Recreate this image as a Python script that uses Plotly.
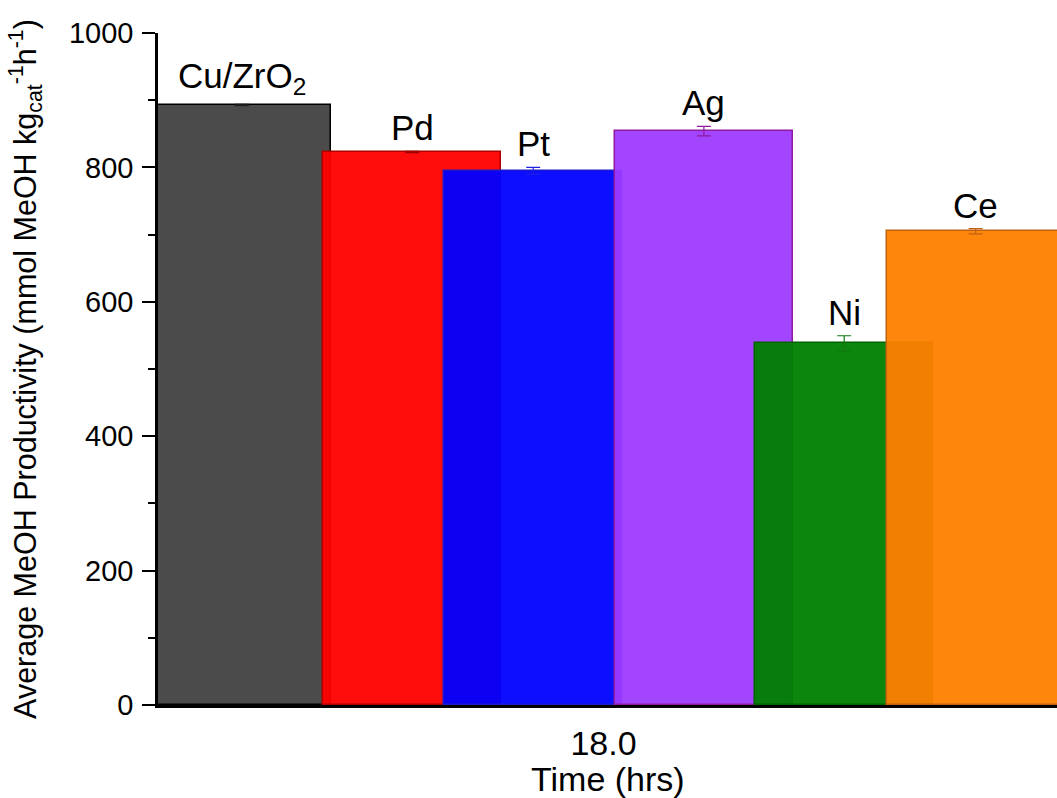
import plotly.graph_objects as go

# ---- data ----
catalysts = ["Cu/ZrO<sub>2</sub>", "Pd", "Pt", "Ag", "Ni", "Ce"]
productivity = [893, 823, 795, 854, 538, 705]
errors = [1, 1, 5, 7, 11.5, 4]
time_hrs = 18.0
# bar left-edge offsets from the 18.0 tick (hrs) as drawn in the original
offsets = [-4.506, -2.802, -1.592, 0.115, 1.518, 2.832]
bar_width = 1.778

fills = ["rgb(75,75,75)", "rgba(255,0,0,0.95)", "rgba(0,0,255,0.95)",
         "rgba(158,58,255,0.95)", "rgba(0,128,0,0.95)", "rgba(255,128,0,0.95)"]
edges = ["#000000", "#b00000", "#1a1acc", "#8e1a9e", "#006400", "#c06010"]
errcols = ["#202020", "#a00000", "#2020e0", "#8e1a9e", "#107a10", "#c06010"]

FONT = "Arial, Liberation Sans, sans-serif"

fig = go.Figure()
for name, val, err, off, fc, ec, erc in zip(catalysts, productivity, errors, offsets,
                                            fills, edges, errcols):
    fig.add_trace(go.Bar(
        x=[time_hrs], y=[val], width=bar_width, offset=off,
        marker=dict(color=fc, line=dict(color=ec, width=1.5)),
        error_y=dict(type="data", array=[err], visible=True, color=erc,
                     thickness=1.2, width=7),
        showlegend=False, name=name,
    ))
    fig.add_annotation(x=time_hrs + off + bar_width / 2, y=val + err, text=name,
                       showarrow=False, yanchor="bottom", yshift=2,
                       font=dict(family=FONT, size=35, color="black"))

# x-axis title as an annotation so it can sit tight under the tick label
fig.add_annotation(xref="paper", yref="paper", x=0.5, y=0, yanchor="top",
                   yshift=-53, text="Time (hrs)", showarrow=False,
                   font=dict(family=FONT, size=34, color="black"))

fig.update_layout(
    width=1057, height=798,
    margin=dict(l=158, r=0, t=33, b=93),
    plot_bgcolor="white", paper_bgcolor="white",
    font=dict(family=FONT, color="black"),
    bargap=0,
)
fig.update_xaxes(
    range=[13.545, 22.535], tickvals=[time_hrs], ticktext=["18.0"],
    showline=True, linecolor="black", linewidth=3, ticks="",
    showgrid=False, zeroline=False,
    tickfont=dict(size=34, family=FONT), ticklabelstandoff=6,
)
fig.update_yaxes(
    range=[0, 1000], tickvals=[0, 200, 400, 600, 800, 1000],
    showline=True, linecolor="black", linewidth=2.5, ticks="outside",
    ticklen=13, tickwidth=2, tickcolor="black",
    minor=dict(tickvals=[100, 300, 500, 700, 900], ticks="outside", ticklen=7,
               tickwidth=2, tickcolor="black"),
    showgrid=False, zeroline=False,
    tickfont=dict(size=29, family=FONT), ticklabelstandoff=3,
    title=dict(text="Average MeOH Productivity (mmol MeOH kg<sub>cat</sub><sup>-1</sup>h<sup>-1</sup>)",
               font=dict(size=30.5, family=FONT), standoff=24),
)

fig.write_html("out.html")
